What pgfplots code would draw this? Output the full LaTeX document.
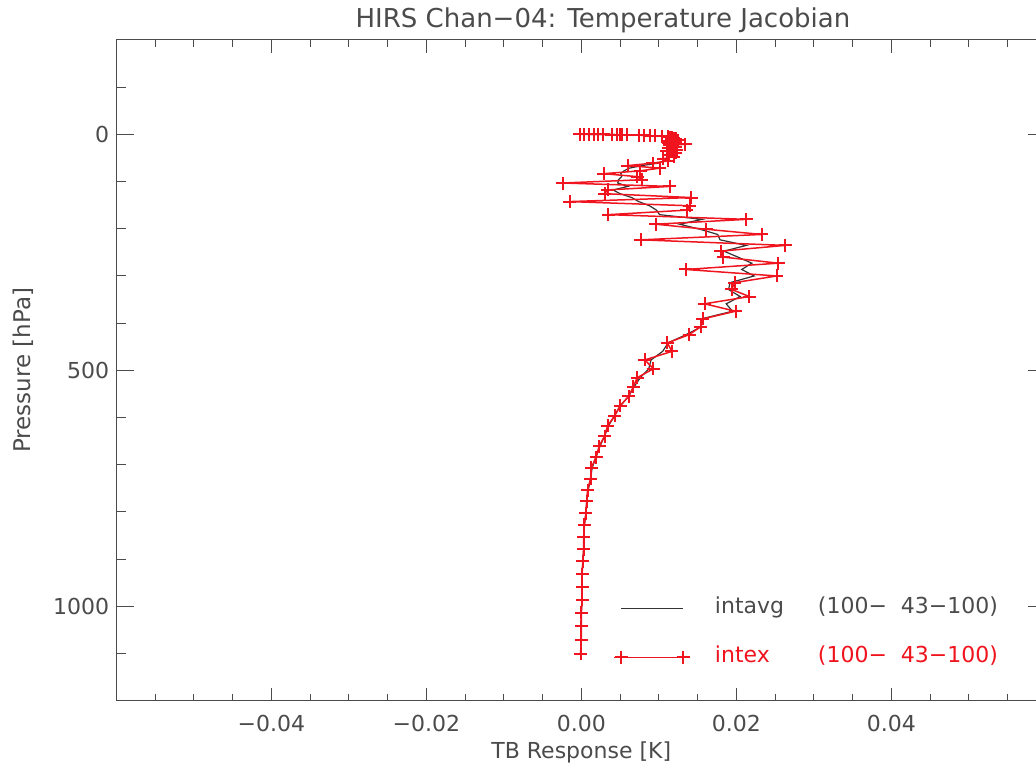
\documentclass[border=0pt]{standalone}
\usepackage{fontspec}
\setmainfont{DejaVu Sans}
\usepackage{pgfplots}
\usepackage{pgfplotstable}
\pgfplotsset{compat=1.18}
\definecolor{idlred}{RGB}{240,20,30}
\definecolor{idlgray}{RGB}{75,75,75}

% pressure level [hPa], intavg, intex  (TB response, K)
\pgfplotstableread{
p         avg      ex
0.0050    -0.0002  -0.0002
0.0161    0.0003   0.0003
0.0384    0.0010   0.0010
0.0769    0.0016   0.0016
0.1370    0.0022   0.0022
0.2244    0.0028   0.0028
0.3454    0.0039   0.0039
0.5064    0.0046   0.0046
0.7140    0.0050   0.0050
0.9753    0.0053   0.0053
1.2972    0.0059   0.0059
1.6872    0.0074   0.0074
2.1526    0.0081   0.0081
2.7009    0.0089   0.0089
3.3398    0.0095   0.0095
4.0770    0.0104   0.0104
4.9204    0.0110   0.0112
5.8776    0.0113   0.0114
6.9567    0.0115   0.0117
8.1655    0.0117   0.0119
9.5119    0.0118   0.0122
11.0038   0.0119   0.0117
12.6492   0.0119   0.0125
14.4559   0.0118   0.0114
16.4318   0.0118   0.0122
18.5847   0.0117   0.0112
20.9224   0.0118   0.0134
23.4526   0.0117   0.0114
26.1829   0.0117   0.0122
29.1210   0.0116   0.0112
32.2744   0.0116   0.0123
35.6505   0.0115   0.0110
39.2566   0.0115   0.0122
43.1001   0.0114   0.0112
47.1882   0.0112   0.0119
51.5278   0.0110   0.0106
56.1260   0.0106   0.0112
60.9895   0.0099   0.0092
66.1253   0.0078   0.0060
71.5398   0.0062   0.0101
77.2396   0.0055   0.0076
83.2310   0.0051   0.0029
89.5204   0.0052   0.0072
96.1138   0.0048   0.0078
103.0172  0.0047   -0.0024
110.2366  0.0060   0.0114
117.7775  0.0041   0.0034
125.6456  0.0050   0.0030
133.8462  0.0065   0.0142
142.3848  0.0074   -0.0015
151.2664  0.0088   0.0140
160.4959  0.0097   0.0136
170.0784  0.0101   0.0035
180.0183  0.0156   0.0213
190.3203  0.0127   0.0096
200.9887  0.0153   0.0161
212.0277  0.0176   0.0233
223.4415  0.0179   0.0077
235.2338  0.0213   0.0263
247.4085  0.0184   0.0180
259.9691  0.0202   0.0183
272.9191  0.0220   0.0254
286.2617  0.0207   0.0135
300.0000  0.0223   0.0252
314.1369  0.0192   0.0198
328.6753  0.0190   0.0194
343.6176  0.0205   0.0217
358.9665  0.0187   0.0159
374.7241  0.0195   0.0199
390.8926  0.0155   0.0157
407.4738  0.0155   0.0154
424.4698  0.0135   0.0139
441.8819  0.0112   0.0111
459.7118  0.0105   0.0117
477.9607  0.0090   0.0082
496.6298  0.0087   0.0093
515.7200  0.0076   0.0072
535.2322  0.0068   0.0067
555.1669  0.0061   0.0061
575.5248  0.0050   0.0050
596.3062  0.0043   0.0043
617.5112  0.0035   0.0034
639.1398  0.0030   0.0030
661.1920  0.0024   0.0023
683.6673  0.0019   0.0019
706.5654  0.0014   0.0013
729.8857  0.0012   0.0012
753.6275  0.0009   0.0008
777.7897  0.0007   0.0007
802.3714  0.0006   0.0006
827.3713  0.0004   0.0004
852.7880  0.0003   0.0003
878.6201  0.0003   0.0003
904.8659  0.0002   0.0002
931.5236  0.0001   0.0001
958.5911  0.0001   0.0001
986.0666  0.0001   0.0001
1013.9476 0.0000   0.0000
1042.2319 0.0000   0.0000
1070.9170 0.0000   0.0000
1100.0000 -0.0001  -0.0001
}\jactable

\begin{document}
\begin{tikzpicture}
\begin{axis}[
  scale only axis, width=465pt, height=330.35pt,
  xmin=-0.06, xmax=0.06, ymin=-200, ymax=1200, y dir=reverse,
  scaled x ticks=false, scaled y ticks=false,
  xtick={-0.04,-0.02,0,0.02,0.04},
  xticklabels={−0.04,−0.02,0.00,0.02,0.04},
  minor xtick={-0.055,-0.05,...,0.055},
  ytick={0,500,1000}, yticklabels={0,500,1000},
  minor ytick={-100,0,...,1100},
  major tick length=9pt, minor tick length=4.7pt,
  xtick style={/pgfplots/major tick length=6.5pt, /pgfplots/minor tick length=3.3pt},
  tick style={idlgray, line width=0.5pt},
  axis line style={idlgray, line width=0.5pt},
  tick label style={font=\fontsize{11}{13}\selectfont, text=idlgray},
  xticklabel style={yshift=-3.5pt},
  every axis title shift=0pt,
  title={HIRS Chan−04: Temperature Jacobian},
  title style={at={(axis description cs:0.5233,1.0303)}, anchor=center, font=\fontsize{13}{15}\selectfont, text=idlgray},
  xlabel={TB Response [K]},
  xlabel style={at={(axis description cs:0.5,-0.0776)}, anchor=center, font=\fontsize{11}{13}\selectfont, text=idlgray},
  ylabel={Pressure [hPa]},
  ylabel style={at={(axis description cs:-0.1002,0.5)}, anchor=center, font=\fontsize{11.5}{14}\selectfont, text=idlgray},
  legend style={draw=none, fill=none, at={(axis cs:0.0041,981)}, anchor=north west,
    inner sep=0pt, row sep=14pt, column sep=12pt,
    nodes={inner sep=0pt, text height=8pt, text depth=2.5pt, font=\fontsize{11}{13}\selectfont}},
  legend cell align=left,
]
\addplot[color=black!80, line width=0.6pt, mark=none,
  legend image code/.code={\path[draw=none, fill=none] (-3.5pt,-3.25pt) rectangle (34.5pt,3.25pt);
    \draw[black!80, line width=0.6pt] (0pt,0pt) -- (31pt,0pt);}]
  table[x=avg, y=p] {\jactable};
\addlegendentry{\textcolor{idlgray}{\makebox[51.5pt][l]{intavg}(100−\ \ 43−100)}}
\addplot[color=idlred, line width=0.75pt, mark=+, mark size=3.25pt,
  mark options={line width=1pt, draw=idlred},
  legend image code/.code={\path[draw=none, fill=none] (-3.5pt,-3.25pt) rectangle (34.5pt,3.25pt);
    \draw[idlred, line width=0.75pt, mark repeat=2, mark phase=2]
      plot coordinates {(-3.5pt,0pt) (0pt,0pt) (15.5pt,0pt) (31pt,0pt) (34.5pt,0pt)};}]
  table[x=ex, y=p] {\jactable};
\addlegendentry{\textcolor{idlred}{\makebox[51.5pt][l]{intex}(100−\ \ 43−100)}}
\end{axis}
\pgfresetboundingbox
\path (current axis.south west) ++(-58.15pt,-31.65pt) rectangle ++(518pt,382pt);
\end{tikzpicture}
\end{document}
